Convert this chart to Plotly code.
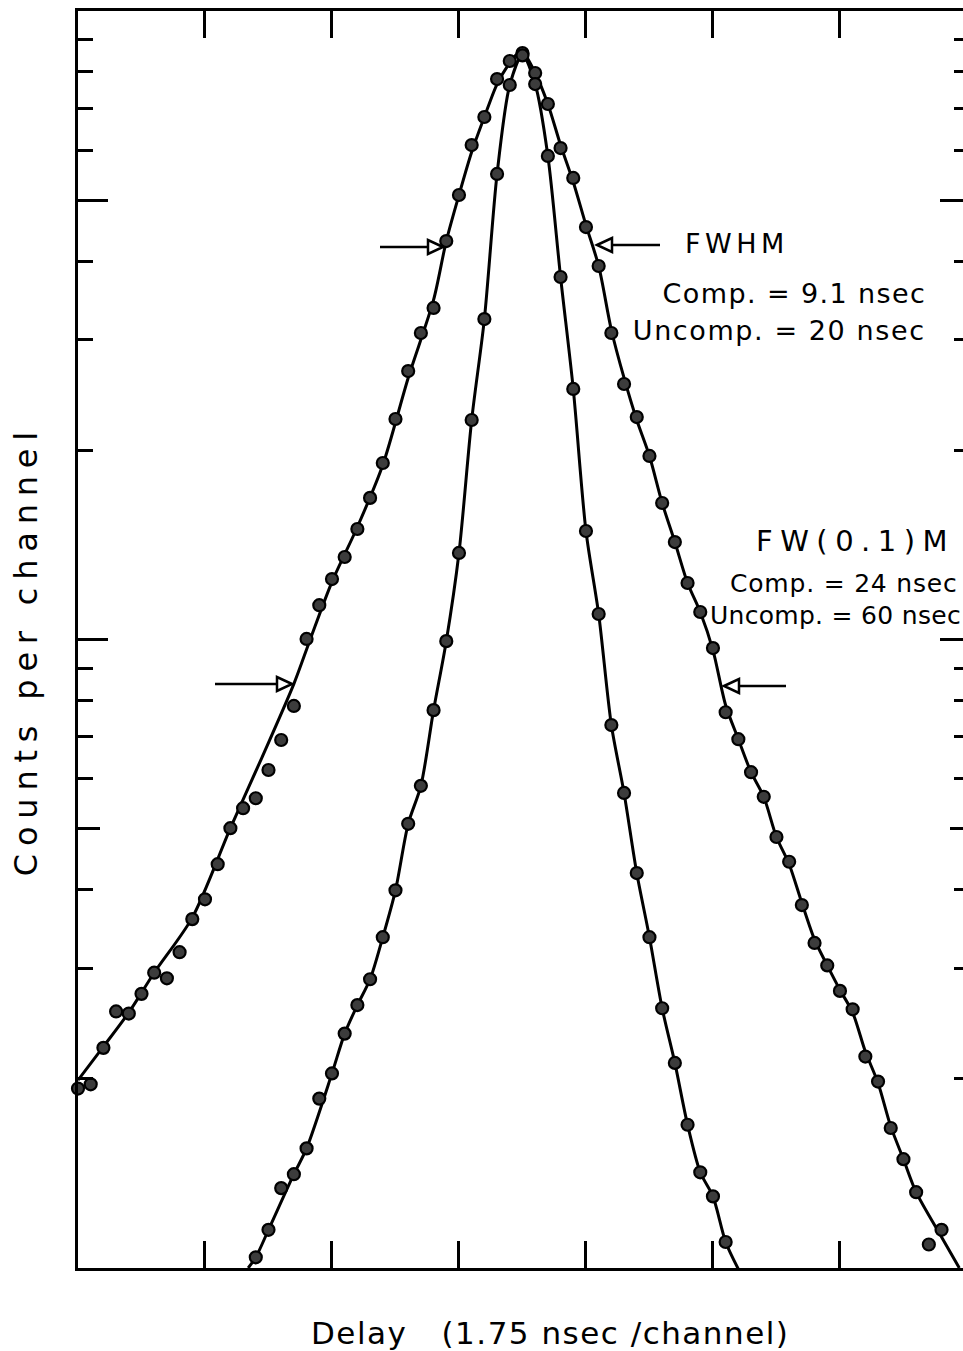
import plotly.graph_objects as go

# ---------------- data (channel number, counts per channel) ----------------
broad_ch = list(range(0, 69))
broad_counts = [19.3, 19.6, 22.4, 25.6, 25.4, 27.3, 29.5, 28.9, 31.8, 35.9,
                38.6, 43.9, 50.1, 53.9, 55.9, 62.0, 69.2, 78.4, 100.2, 113.4,
                124.8, 135.3, 149.9, 168.0, 190.9, 224.3, 267.4, 307.4, 336.9, 430.5,
                509.6, 612.0, 678.2, 779.4, 832.6, 857.4, 796.8, 711.2, 605.3, 542.5,
                453.1, 392.9, 307.4, 255.0, 225.9, 195.9, 164.9, 142.9, 123.0, 110.6,
                96.9, 76.6, 69.4, 61.5, 56.2, 48.5, 44.3, 37.8, 32.9, 30.3,
                27.6, 25.8, 21.7, 19.8, 16.7, 14.9, 13.2, 10.9, 11.5]

narrow_ch = list(range(14, 53))
narrow_counts = [10.4, 11.5, 13.4, 14.1, 15.5, 18.6, 20.4, 23.6, 26.2, 28.8,
                 33.6, 39.9, 50.9, 58.5, 77.2, 99.4, 137.3, 223.5, 323.5, 550.5,
                 762.5, 850.0, 765.2, 588.0, 377.4, 250.4, 148.8, 109.8, 73.1, 57.0,
                 42.5, 33.6, 25.9, 21.2, 16.9, 14.2, 13.0, 11.0, 9.96]

# hand-drawn fitted curves
broad_fit_ch = [0, 2, 4, 6, 9, 12, 14.5, 17, 18.3, 20,
                22, 24, 26, 28, 29, 30, 31, 32, 33, 34,
                34.5, 35, 36, 37, 38, 39, 40, 41, 42, 43,
                44, 45, 46, 47, 48, 49, 50, 51, 52, 53,
                54, 55, 56, 57, 58, 59, 60, 61, 62, 63,
                64, 65, 66, 68, 69.4]
broad_fit = [19.9, 22.5, 25.5, 29.5, 36.1, 50.1, 65.0, 85.0, 100.2, 123.5,
             151.0, 189.5, 260.7, 346.9, 430.5, 509.6, 596.6, 678.2, 765.2, 826.6,
             851.1, 860.5, 796.8, 711.2, 612.0, 534.5, 456.4, 392.9, 310.8, 260.7,
             223.5, 195.9, 164.9, 142.9, 123.0, 110.6, 96.2, 78.6, 69.4, 61.5,
             56.2, 48.5, 43.9, 38.1, 33.3, 30.3, 27.7, 25.5, 22.1, 19.7,
             16.8, 14.9, 13.2, 11.2, 10.0]

narrow_fit_ch = [13.4, 14, 15, 17, 18, 20, 21, 22, 23, 24, 25, 26, 27, 28, 29, 30,
                 31, 32, 33, 34, 35, 36, 37, 38, 39, 40, 41, 42, 43, 44, 45, 46,
                 47, 48, 49, 50, 51, 52]
narrow_fit = [10.0, 10.4, 11.5, 14.1, 15.5, 20.4, 23.6, 26.2, 28.8, 33.6, 39.9, 50.9,
              58.5, 77.2, 99.4, 137.3, 223.5, 323.5, 550.5, 762.5, 852.0, 765.2,
              588.0, 377.4, 250.4, 148.8, 109.8, 73.1, 57.0, 42.5, 33.6, 25.9,
              21.2, 16.9, 14.2, 13.0, 11.0, 9.96]

x_ticks = [10, 20, 30, 40, 50, 60]
y_major = [100, 500]
y_mid = [50]
y_minor = [20, 30, 40, 60, 70, 80, 90, 200, 300, 400, 600, 700, 800, 900]

FONT = "DejaVu Sans"
W, H = 963, 1351
L, R, T, B = 78, 963, 11, 1268


def px(x):
    return (x - L) / (R - L)


def py(y):
    return (B - y) / (B - T)


fig = go.Figure()

line_style = dict(color="black", width=3, shape="spline", smoothing=0.8)
fig.add_trace(go.Scatter(x=broad_fit_ch, y=broad_fit, mode="lines", line=line_style,
                         hoverinfo="skip", showlegend=False, yaxis="y"))
fig.add_trace(go.Scatter(x=narrow_fit_ch, y=narrow_fit, mode="lines", line=line_style,
                         hoverinfo="skip", showlegend=False, yaxis="y2"))

marker_style = dict(symbol="circle", size=12, color="#3c3c3c",
                    line=dict(color="black", width=2.2))
fig.add_trace(go.Scatter(x=broad_ch, y=broad_counts, mode="markers", marker=marker_style,
                         cliponaxis=False, showlegend=False, name="Uncompensated",
                         yaxis="y3"))
fig.add_trace(go.Scatter(x=narrow_ch, y=narrow_counts, mode="markers", marker=marker_style,
                         cliponaxis=False, showlegend=False, name="Compensated",
                         yaxis="y4"))

ax_common = dict(type="log", range=[1, 3], showgrid=False, zeroline=False,
                 showticklabels=False, ticks="inside", tickcolor="black", tickwidth=2.5)

fig.update_layout(
    width=W, height=H,
    margin=dict(l=L, r=W - R, t=T, b=H - B, pad=0),
    paper_bgcolor="white", plot_bgcolor="white",
    font=dict(family=FONT, color="black"),
    xaxis=dict(range=[0, 69.69], showline=True, linewidth=3, linecolor="black",
               mirror="ticks", ticks="inside", ticklen=27, tickwidth=3, tickcolor="black",
               tickvals=x_ticks, showticklabels=False, showgrid=False, zeroline=False),
    yaxis=dict(**ax_common, showline=True, linewidth=3, linecolor="black",
               tickvals=y_major, ticklen=30,
               minor=dict(tickvals=y_minor, ticks="inside", ticklen=15, tickwidth=2.5,
                          tickcolor="black", showgrid=False)),
    yaxis2=dict(**ax_common, overlaying="y", side="right", anchor="x", showline=False,
                tickvals=y_major, ticklen=23,
                minor=dict(tickvals=y_minor, ticks="inside", ticklen=9, tickwidth=2.5,
                           tickcolor="black", showgrid=False)),
    yaxis3=dict(**ax_common, overlaying="y", side="left", anchor="x", showline=False,
                tickvals=y_mid, ticklen=22),
    yaxis4=dict(**ax_common, overlaying="y", side="right", anchor="x", showline=False,
                tickvals=y_mid, ticklen=13),
)

# arrows (open triangular heads)
shapes = []


def arrow(x_tail, x_tip, y):
    d = 1 if x_tip > x_tail else -1
    base = x_tip - d * 15
    shapes.append(dict(type="line", xref="paper", yref="paper",
                       x0=px(x_tail), x1=px(base), y0=py(y), y1=py(y),
                       line=dict(color="black", width=2.5)))
    path = "M {:.5f},{:.5f} L {:.5f},{:.5f} L {:.5f},{:.5f} Z".format(
        px(x_tip), py(y), px(base), py(y - 7), px(base), py(y + 7))
    shapes.append(dict(type="path", xref="paper", yref="paper", path=path,
                       fillcolor="white", line=dict(color="black", width=2.5)))


arrow(380, 443, 247)
arrow(660, 597, 245)
arrow(215, 292, 684)
arrow(786, 724, 686)
fig.update_layout(shapes=shapes)

ann = []


def text(s, x, y, size, anchor="right", angle=0):
    ann.append(dict(text=s, x=px(x), y=py(y), xref="paper", yref="paper",
                    xanchor=anchor, yanchor="middle", align=anchor, showarrow=False,
                    textangle=angle, font=dict(family=FONT, size=size, color="black")))


text("FWHM", 683, 244, 27, "left")
text("Comp. = 9.1 nsec", 928, 293, 27)
text("Uncomp. = 20 nsec", 928, 330, 27)
text("FW(0.1)M", 957, 541, 29)
text("Comp. = 24 nsec", 960, 583, 25)
text("Uncomp. = 60 nsec", 963, 615, 25)
text("Delay   (1.75 nsec /channel)", 550, 1333, 31, "center")
text("Counts per channel", 26, 650, 32, "center", -90)
fig.update_layout(annotations=ann)

# the original lettering is widely spaced; reproduce with CSS letter-spacing
spacing_js = """
var sp = {"Counts per channel": 7.8, "FWHM": 4.5, "Comp. = 9.1 nsec": 1.4,
          "Uncomp. = 20 nsec": 1.6, "FW(0.1)M": 7.5, "Comp. = 24 nsec": 0.8,
          "Uncomp. = 60 nsec": 0.3, "Delay   (1.75 nsec /channel)": 1.5};
document.querySelectorAll('text.annotation-text').forEach(function(t){
  var s = sp[t.textContent];
  if (s !== undefined) { t.style.letterSpacing = s + 'px'; }
});
"""

fig.write_html("out.html", post_script=spacing_js)
